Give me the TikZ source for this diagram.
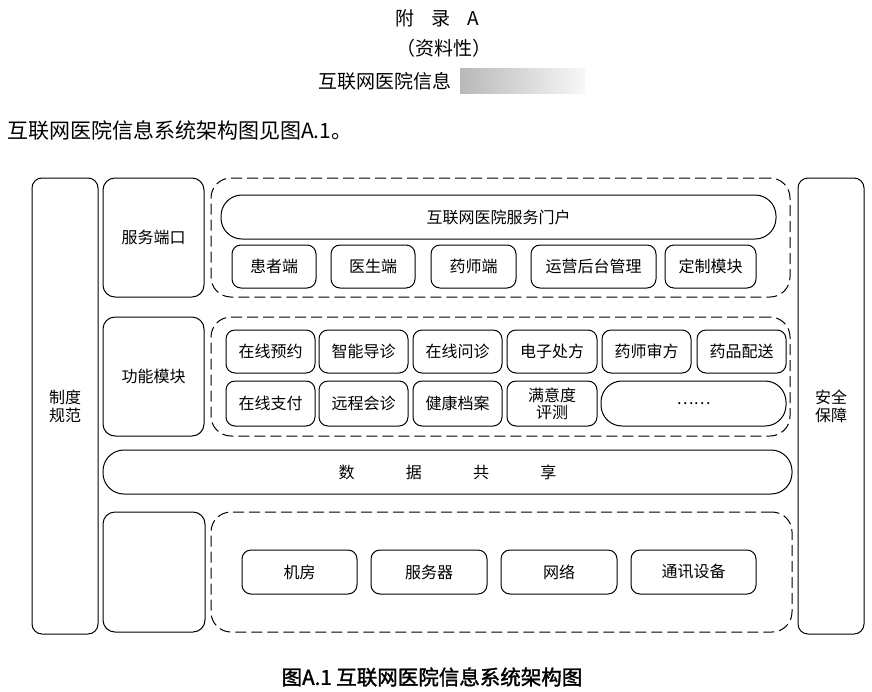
\documentclass[tikz,border=0pt]{standalone}
\usepackage{fontspec}
\setmainfont{Noto Sans CJK SC}
\newfontfamily\cjkb{Noto Sans CJK SC}[FakeBold=1.6]
\begin{document}
\begin{tikzpicture}[x=1pt,y=-1pt,
  bx/.style={draw, line width=1pt, rounded corners=9pt, inner sep=0pt, align=center, font=\fontsize{16}{18}\selectfont},
  pill/.style={bx, rounded corners=21pt},
  dreg/.style={draw, line width=1pt, dash pattern=on 11pt off 5pt, rounded corners=20pt, inner sep=0pt},
  col/.style={bx, rounded corners=10pt},
  ttl/.style={inner sep=0pt, font=\fontsize{19}{22}\selectfont}]
\useasboundingbox (0,0) rectangle (872,691);
% header
\node[ttl] (h1) at (437,18) {附\hspace{0.9em}录\hspace{0.9em}A};
\node[ttl] (h2) at (444,48) {（资料性）};
\node[ttl, anchor=west] (h3) at (318,81) {互联网医院信息};
\shade[left color=gray!55, right color=white!94!gray] (460,68) rectangle (585,93);
\node[inner sep=0pt, anchor=west, font=\fontsize{21}{23}\selectfont] (intro) at (7,130) {互联网医院信息系统架构图见图A.1。};
% side columns
\node[col, minimum width=66pt, minimum height=456pt] (zdgf) at (65,406) {制度\\规范};
\node[col, minimum width=66pt, minimum height=456pt] (aqbz) at (831,406) {安全\\保障};
% service port
\node[bx, minimum width=101pt, minimum height=119pt, rounded corners=12pt] (fwdk) at (153.5,237.5) {服务端口};
\node[dreg, minimum width=579pt, minimum height=119pt] (svcreg) at (500.5,237.5) {};
\node[pill, minimum width=555pt, minimum height=44pt] (portal) at (498.5,217) {互联网医院服务门户};
\node[bx, minimum width=84pt, minimum height=43pt] (p1) at (274,266.5) {患者端};
\node[bx, minimum width=84pt, minimum height=43pt] (p2) at (373,266.5) {医生端};
\node[bx, minimum width=85pt, minimum height=43pt] (p3) at (473.5,266.5) {药师端};
\node[bx, minimum width=125pt, minimum height=43pt] (p4) at (593.5,266.5) {运营后台管理};
\node[bx, minimum width=91pt, minimum height=43pt] (p5) at (710.5,266.5) {定制模块};
% function modules
\node[bx, minimum width=101pt, minimum height=119pt, rounded corners=12pt] (gnmk) at (153.5,376.5) {功能模块};
\node[dreg, minimum width=579pt, minimum height=119pt] (funcreg) at (500.5,376.5) {};
\node[bx, minimum width=89pt, minimum height=43pt] (f1) at (270.5,351.5) {在线预约};
\node[bx, minimum width=89pt, minimum height=43pt] (f2) at (363.5,351.5) {智能导诊};
\node[bx, minimum width=89pt, minimum height=43pt] (f3) at (457.5,351.5) {在线问诊};
\node[bx, minimum width=90pt, minimum height=43pt] (f4) at (552,351.5) {电子处方};
\node[bx, minimum width=89pt, minimum height=43pt] (f5) at (646.5,351.5) {药师审方};
\node[bx, minimum width=89pt, minimum height=43pt] (f6) at (741.5,351.5) {药品配送};
\node[bx, minimum width=89pt, minimum height=45pt] (g1) at (270.5,403.5) {在线支付};
\node[bx, minimum width=89pt, minimum height=45pt] (g2) at (363.5,403.5) {远程会诊};
\node[bx, minimum width=89pt, minimum height=45pt] (g3) at (457.5,403.5) {健康档案};
\node[bx, minimum width=90pt, minimum height=45pt, font=\fontsize{16}{17}\selectfont] (g4) at (552,403.5) {满意度\\评测};
\node[pill, minimum width=185pt, minimum height=45pt] (g5) at (693.5,403.5) {……};
% data sharing
\node[pill, minimum width=689pt, minimum height=44pt] (data) at (447.5,472) {数\hspace{3.2em}据\hspace{3.2em}共\hspace{3.2em}享};
% infrastructure
\node[bx, minimum width=102pt, minimum height=120pt, rounded corners=12pt] (empty) at (154,572) {};
\node[dreg, minimum width=581pt, minimum height=120pt] (infra) at (501.5,572) {};
\node[bx, minimum width=115pt, minimum height=44pt] (i1) at (299.5,572) {机房};
\node[bx, minimum width=116pt, minimum height=44pt] (i2) at (429,572) {服务器};
\node[bx, minimum width=116pt, minimum height=44pt] (i3) at (559,572) {网络};
\node[bx, minimum width=125pt, minimum height=44pt] (i4) at (693.5,572) {通讯设备};
% caption
\node[inner sep=0pt, font=\cjkb\fontsize{20.5}{23}\selectfont] (cap) at (432,677) {图A.1 互联网医院信息系统架构图};
\end{tikzpicture}
\end{document}
